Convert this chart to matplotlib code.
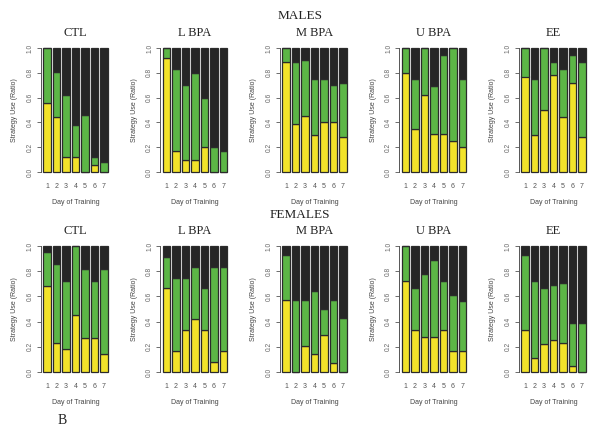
import numpy as np
import matplotlib
matplotlib.use("Agg")
import matplotlib.pyplot as plt

days = [1, 2, 3, 4, 5, 6, 7]
groups = ["CTL", "L BPA", "M BPA", "U BPA", "EE"]

# yellow part (ratio) and top of green part (cumulative ratio)
male_yellow = {
    "CTL":   [0.56, 0.44, 0.12, 0.12, 0.00, 0.06, 0.00],
    "L BPA": [0.92, 0.17, 0.10, 0.10, 0.20, 0.00, 0.00],
    "M BPA": [0.89, 0.39, 0.45, 0.30, 0.40, 0.40, 0.28],
    "U BPA": [0.80, 0.35, 0.62, 0.31, 0.31, 0.25, 0.20],
    "EE":    [0.77, 0.30, 0.50, 0.78, 0.44, 0.72, 0.28],
}
male_green_top = {
    "CTL":   [1.00, 0.81, 0.62, 0.38, 0.46, 0.12, 0.08],
    "L BPA": [1.00, 0.83, 0.70, 0.80, 0.60, 0.20, 0.17],
    "M BPA": [1.00, 0.89, 0.90, 0.75, 0.75, 0.70, 0.72],
    "U BPA": [1.00, 0.75, 1.00, 0.69, 0.94, 1.00, 0.75],
    "EE":    [1.00, 0.75, 1.00, 0.89, 0.83, 0.94, 0.89],
}
female_yellow = {
    "CTL":   [0.68, 0.23, 0.18, 0.45, 0.27, 0.27, 0.14],
    "L BPA": [0.67, 0.17, 0.33, 0.42, 0.33, 0.08, 0.17],
    "M BPA": [0.57, 0.00, 0.21, 0.14, 0.29, 0.07, 0.00],
    "U BPA": [0.72, 0.33, 0.28, 0.28, 0.33, 0.17, 0.17],
    "EE":    [0.33, 0.11, 0.22, 0.25, 0.23, 0.05, 0.00],
}
female_green_top = {
    "CTL":   [0.95, 0.86, 0.72, 1.00, 0.82, 0.72, 0.82],
    "L BPA": [0.91, 0.75, 0.75, 0.83, 0.67, 0.83, 0.83],
    "M BPA": [0.93, 0.57, 0.57, 0.64, 0.50, 0.57, 0.43],
    "U BPA": [1.00, 0.67, 0.78, 0.89, 0.72, 0.61, 0.56],
    "EE":    [0.93, 0.72, 0.67, 0.69, 0.71, 0.39, 0.39],
}

YEL = "#f2e32a"
GRN = "#5cb646"
DRK = "#262626"
EDGE = "#2b2b2b"
SERIF = ["Liberation Serif", "DejaVu Serif"]
SANS = ["Liberation Sans", "DejaVu Sans"]

W, H = 600, 434
fig = plt.figure(figsize=(6, 4.34), dpi=100)
fig.patch.set_facecolor("white")


def panel(left, top, bottom, name, yel, gtop):
    ax = fig.add_axes([left / W, 1 - bottom / H, 70 / W, (bottom - top) / H])
    x = np.array(days)
    y = np.array(yel)
    g = np.array(gtop)
    bw = 1 / 1.2
    ax.bar(x, y, bw, color=YEL, edgecolor=EDGE, linewidth=0.9)
    ax.bar(x, g - y, bw, bottom=y, color=GRN, edgecolor=EDGE, linewidth=0.9)
    ax.bar(x, 1 - g, bw, bottom=g, color=DRK, edgecolor=EDGE, linewidth=0.9)
    ax.set_xlim(0.31, 7.69)
    ax.set_ylim(-0.04, 1.04)
    for s in ["top", "right", "bottom"]:
        ax.spines[s].set_visible(False)
    ax.spines["left"].set_bounds(0, 1)
    ax.spines["left"].set_color("#555555")
    ax.spines["left"].set_linewidth(0.7)
    ax.set_yticks([0, 0.2, 0.4, 0.6, 0.8, 1.0])
    ax.set_yticklabels(["0.0", "0.2", "0.4", "0.6", "0.8", "1.0"],
                       rotation=90, va="center", fontsize=4.8, color="#666666",
                       family=SANS)
    ax.tick_params(axis="y", length=3, width=0.6, color="#555555", pad=2)
    ax.set_xticks(days)
    ax.set_xticklabels([str(d) for d in days], fontsize=5, color="#555555",
                       family=SANS)
    ax.tick_params(axis="x", length=0, pad=4.5)
    ax.set_xlabel("Day of Training", fontsize=5, color="#444444", family=SANS,
                  labelpad=6)
    ax.set_ylabel("Strategy Use (Ratio)", fontsize=5, color="#444444",
                  family=SANS, labelpad=6)
    ax.set_title(name, fontsize=9, family=SERIF, color="#222222", pad=5)
    return ax


lefts = [40.5, 160, 279.5, 399, 518.5]
for i, gname in enumerate(groups):
    panel(lefts[i], 43, 177, gname, male_yellow[gname], male_green_top[gname])
    panel(lefts[i], 241, 377, gname, female_yellow[gname], female_green_top[gname])

fig.text(0.5, 1 - 16 / H, "MALES", ha="center", va="center", fontsize=9.5,
         family=SERIF, color="#222222")
fig.text(0.5, 1 - 215 / H, "FEMALES", ha="center", va="center", fontsize=9.5,
         family=SERIF, color="#222222")
fig.text(62 / W, 1 - 420 / H, "B", ha="center", va="center", fontsize=10,
         family=SERIF, color="#222222")

fig.savefig("out.png", dpi=100)
